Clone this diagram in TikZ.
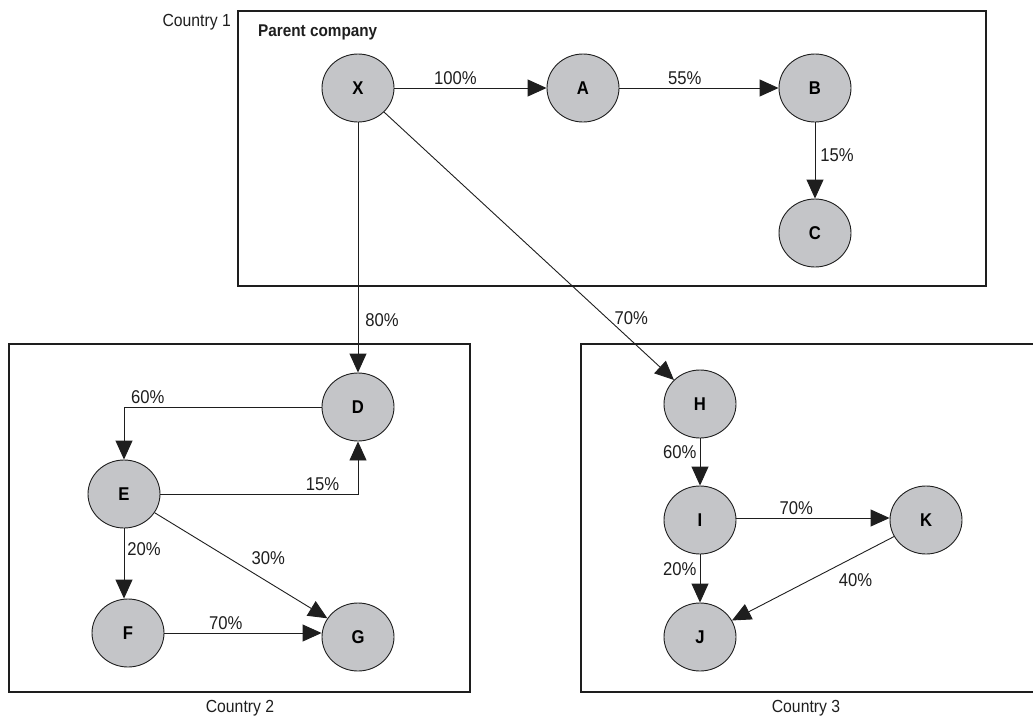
\documentclass[tikz,border=0pt]{standalone}
\usepackage{fontspec}
\setmainfont{Liberation Sans}[FakeStretch=0.9]
\usetikzlibrary{arrows.meta,shapes.geometric}
\definecolor{nodegray}{RGB}{196,197,200}
\definecolor{ink}{RGB}{30,30,30}
\tikzset{
  entity/.style={ellipse, draw=ink, line width=0.9pt, fill=nodegray, minimum width=72pt, minimum height=68pt, inner sep=0pt, font=\fontsize{18.5}{20}\selectfont\bfseries},
  frame/.style={draw=ink, line width=1.8pt},
  link/.style={draw=ink, line width=0.9pt, -{Triangle[length=19pt,width=17pt]}},
  pct/.style={font=\fontsize{18.5}{20}\selectfont, text=ink, inner sep=3pt},
  caption/.style={font=\fontsize{17.5}{19}\selectfont, text=ink, inner sep=0pt}
}
\begin{document}
\begin{tikzpicture}[x=1pt,y=-1pt]
\useasboundingbox (0,0) rectangle (1033,718);
% frames
\draw[frame] (238,11) rectangle (986,286);
\draw[frame] (9,344) rectangle (470,692);
\draw[frame] (1033,344) -- (581,344) -- (581,692) -- (1033,692);
% captions
\node[caption, anchor=east] (c1) at (231,22) {Country 1};
\node[caption, anchor=west, font=\fontsize{17}{19}\selectfont\bfseries] (pc) at (258,32) {Parent company};
\node[caption] (c2) at (240,708) {Country 2};
\node[caption] (c3) at (806,708) {Country 3};
% nodes
\node[entity] (X) at (358,88) {X};
\node[entity] (A) at (583,88) {A};
\node[entity] (B) at (815,88) {B};
\node[entity] (C) at (815,233) {C};
\node[entity] (D) at (358,407) {D};
\node[entity] (E) at (124,494) {E};
\node[entity] (F) at (128,633) {F};
\node[entity] (G) at (358,637) {G};
\node[entity] (H) at (700,404) {H};
\node[entity] (I) at (700,520) {I};
\node[entity] (K) at (926,520) {K};
\node[entity] (J) at (700,637) {J};
% edges
\draw[link] (X) -- node[pct, pos=0.4, above] {100\%} (A);
\draw[link] (A) -- node[pct, pos=0.41, above] {55\%} (B);
\draw[link] (B) -- node[pct, pos=0.43, right=2pt] {15\%} (C);
\draw[link] (X) -- node[pct, pos=0.79, right=4pt] {80\%} (D);
\draw[link] (X) -- node[pct, pos=0.77, right=4pt] {70\%} (H);
\draw[link] (D.west) -| node[pct, pos=0.44, above] {60\%} (E.north);
\draw[link] (E.east) -| node[pct, pos=0.41, above] {15\%} (D.south);
\draw[link] (E.south) -- node[pct, pos=0.3, right] {20\%} (E.south |- F.north);
\draw[link] (E) -- node[pct, pos=0.6, anchor=south, xshift=10pt, yshift=8pt] {30\%} (G);
\draw[link] (F) -- node[pct, pos=0.39, above] {70\%} (F -| G.west);
\draw[link] (H) -- node[pct, pos=0.3, left] {60\%} (I);
\draw[link] ([yshift=2pt]I.east) -- node[pct, pos=0.39, above] {70\%} ([yshift=2pt]K.west);
\draw[link] (I) -- node[pct, pos=0.3, left] {20\%} (J);
\draw[link] (K) -- node[pct, pos=0.3, anchor=north, xshift=10pt, yshift=-8pt] {40\%} (J);
\end{tikzpicture}
\end{document}
